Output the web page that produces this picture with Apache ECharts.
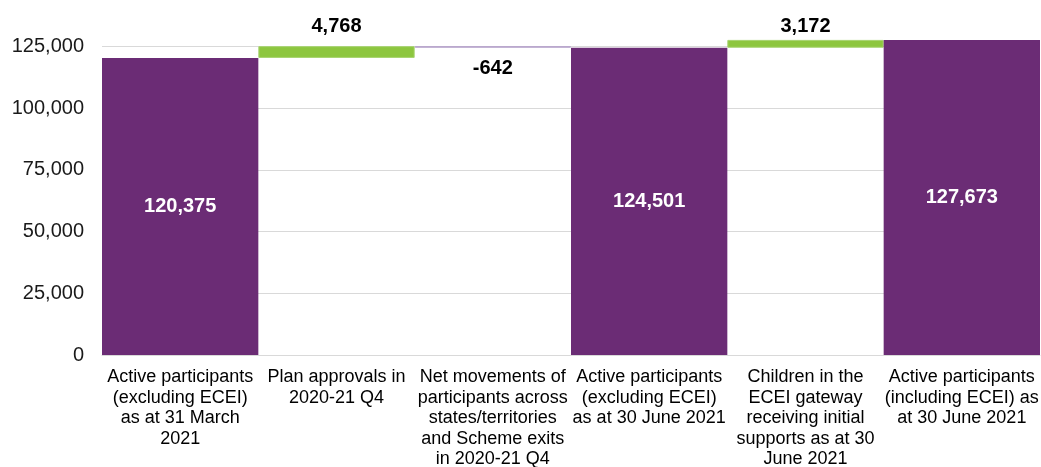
<!DOCTYPE html>
<html>
<head>
<meta charset="utf-8">
<script src="https://cdn.jsdelivr.net/npm/echarts@6/dist/echarts.min.js"></script>
<style>
html,body{margin:0;padding:0;background:#fff;}
#c{width:1041px;height:467px;}
</style>
</head>
<body>
<div id="c"></div>
<script>
var categories = [
  "Active participants\n(excluding ECEI)\nas at 31 March\n2021",
  "Plan approvals in\n2020-21 Q4",
  "Net movements of\nparticipants across\nstates/territories\nand Scheme exits\nin 2020-21 Q4",
  "Active participants\n(excluding ECEI)\nas at 30 June 2021",
  "Children in the\nECEI gateway\nreceiving initial\nsupports as at 30\nJune 2021",
  "Active participants\n(including ECEI) as\nat 30 June 2021"
];
var totals = [120375, null, null, 124501, null, 127673];
var changes = [null, 4768, -642, null, 3172, null];
var yTicks = [0, 25000, 50000, 75000, 100000, 125000];

// derive waterfall pieces
var base = [], inc = [], dec = [], tot = [];
var running = 0;
for (var i = 0; i < categories.length; i++) {
  if (totals[i] !== null) {
    running = totals[i];
    base.push(0); inc.push(null); dec.push(null); tot.push(totals[i]);
  } else {
    var c = changes[i];
    if (c >= 0) {
      base.push(running); inc.push(c); dec.push(null); tot.push(null);
      running += c;
    } else {
      running += c;
      base.push(running); inc.push(null); dec.push(-c); tot.push(null);
    }
  }
}
function fmt(v){ return v.toLocaleString('en-US'); }

var incDist = [0, 10, 0, 0, 3, 0];
var incData = inc.map(function(v, i){
  return v === null ? null : {value: v, label: {distance: incDist[i]}};
});

var chart = echarts.init(document.getElementById('c'), null, {renderer:'canvas'});
chart.setOption({
  animation: false,
  backgroundColor: '#ffffff',
  grid: {left: 102, right: 1, top: 46.5, bottom: 112, containLabel: false, outerBoundsMode: 'none'},
  xAxis: {
    type: 'category',
    data: categories,
    axisTick: {show: false},
    axisLine: {show: true, lineStyle: {color: '#d9d9d9', width: 1}},
    axisLabel: {
      interval: 0, color: '#000000', fontFamily: 'Liberation Sans, Arial, sans-serif',
      fontSize: 18, lineHeight: 20.5, margin: 12
    }
  },
  yAxis: {
    type: 'value', min: yTicks[0], max: yTicks[yTicks.length-1], interval: yTicks[1]-yTicks[0],
    axisLine: {show: false}, axisTick: {show: false},
    splitLine: {lineStyle: {color: '#d9d9d9', width: 1}},
    axisLabel: {
      color: '#1a1a1a', fontFamily: 'Liberation Sans, Arial, sans-serif', fontSize: 20, margin: 18,
      formatter: function(v){ return fmt(v); }
    }
  },
  series: [
    {
      name: 'base', type: 'bar', stack: 'w', data: base, barCategoryGap: '0%', clip: false,
      itemStyle: {color: 'rgba(0,0,0,0)'}, silent: true
    },
    {
      name: 'increase', type: 'bar', stack: 'w', data: incData, barCategoryGap: '0%', clip: false,
      itemStyle: {color: '#8DC63F', borderColor: '#A6D36E', borderWidth: 1},
      label: {show: true, position: 'top', color: '#000', fontWeight: 'bold', fontSize: 20,
        fontFamily: 'Liberation Sans, Arial, sans-serif',
        formatter: function(p){ return fmt(p.value); }}
    },
    {
      name: 'decrease', type: 'bar', stack: 'w', data: dec, barCategoryGap: '0%', clip: false,
      itemStyle: {color: '#B7A5CC', borderColor: '#B7A5CC', borderWidth: 1},
      label: {show: true, position: 'bottom', distance: 11, color: '#000', fontWeight: 'bold', fontSize: 20,
        fontFamily: 'Liberation Sans, Arial, sans-serif',
        formatter: function(p){ return '-' + fmt(p.value); }}
    },
    {
      name: 'total', type: 'bar', stack: 'w', data: tot, barCategoryGap: '0%', clip: false,
      itemStyle: {color: '#6B2C75'},
      label: {show: true, position: 'inside', color: '#ffffff', fontWeight: 'bold', fontSize: 20,
        fontFamily: 'Liberation Sans, Arial, sans-serif',
        formatter: function(p){ return fmt(p.value); }}
    }
  ]
});
</script>
</body>
</html>
